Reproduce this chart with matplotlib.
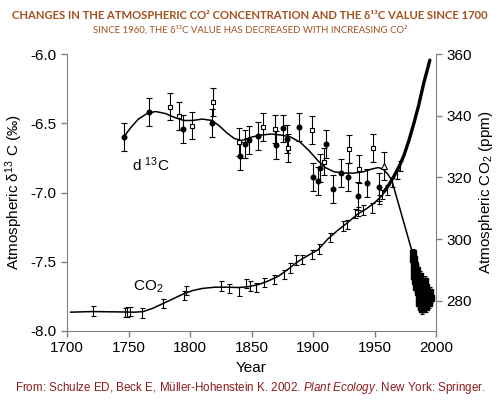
import matplotlib
matplotlib.use("Agg")
import matplotlib.pyplot as plt

plt.rcParams['font.family'] = ['Liberation Sans', 'DejaVu Sans']
plt.rcParams['axes.unicode_minus'] = False
plt.rcParams['mathtext.fontset'] = 'custom'
plt.rcParams['mathtext.rm'] = 'Liberation Sans'
plt.rcParams['mathtext.it'] = 'Liberation Sans:italic'

# d13C ice core points (filled circles, open squares, one triangle)
d13_fill_years = [1746.6, 1767, 1794.6, 1818, 1840.4, 1844.7, 1848.2, 1855.3, 1870.2, 1875.3, 1878.9,
                  1888.4, 1899.7, 1903.8, 1905.7, 1910.3, 1916.5, 1922.5, 1928.7, 1936.3, 1944.1, 1953.9]
d13_fill_vals = [-6.597, -6.421, -6.54, -6.496, -6.734, -6.65, -6.621, -6.592, -6.659, -6.537, -6.616,
                 -6.527, -6.886, -6.915, -6.825, -6.65, -6.977, -6.857, -6.89, -7.025, -6.929, -6.962]
d13_sq_years = [1783.7, 1790.8, 1801.6, 1819, 1839.6, 1859.3, 1869, 1879.9, 1899.4, 1909.2, 1929.3, 1937.4, 1948.5]
d13_sq_vals = [-6.38, -6.448, -6.517, -6.349, -6.633, -6.527, -6.539, -6.681, -6.549, -6.777, -6.688, -6.832, -6.677]
d13_tri_years = [1957.5]
d13_tri_vals = [-6.809]
d13_err = 0.1

# recent d13C measurements (dense cluster)
d13_recent_years = [1981.5, 1981.5, 1982.5, 1982, 1983, 1982, 1983.5, 1984.5, 1982.5, 1984, 1985.5, 1987,
                    1983, 1985, 1987, 1989, 1991, 1984, 1986, 1988, 1990, 1992,
                    1985, 1987, 1989, 1991, 1993, 1995, 1986, 1988, 1990, 1992, 1994, 1996,
                    1986.5, 1988.5, 1990.5, 1992.5, 1994.5, 1988, 1990, 1992, 1989]
d13_recent_vals = [-7.44, -7.48, -7.48, -7.52, -7.52, -7.56, -7.56, -7.56, -7.60, -7.60, -7.60, -7.60,
                   -7.64, -7.64, -7.64, -7.64, -7.64, -7.68, -7.68, -7.68, -7.68, -7.68,
                   -7.72, -7.72, -7.72, -7.72, -7.72, -7.72, -7.76, -7.76, -7.76, -7.76, -7.76, -7.76,
                   -7.80, -7.80, -7.80, -7.80, -7.80, -7.83, -7.83, -7.83, -7.84]

# d13C smooth curve
d13_curve_years = [1746, 1752, 1758, 1765, 1772, 1780, 1788, 1795, 1802, 1810, 1818, 1824, 1830, 1836, 1842,
                   1850, 1858, 1866, 1874, 1882, 1890, 1897, 1904, 1910, 1917, 1925, 1933, 1941, 1948,
                   1953, 1957, 1961, 1964, 1981, 1988]
d13_curve_vals = [-6.60, -6.53, -6.47, -6.43, -6.415, -6.43, -6.46, -6.48, -6.48, -6.47, -6.48, -6.52, -6.57,
                  -6.61, -6.625, -6.60, -6.585, -6.578, -6.585, -6.60, -6.64, -6.70, -6.77, -6.82, -6.85,
                  -6.86, -6.86, -6.85, -6.83, -6.82, -6.83, -6.87, -6.91, -7.44, -7.70]

# CO2 ice core points
co2_years = [1721, 1747, 1749, 1751, 1761, 1778, 1795, 1797, 1825, 1832, 1840, 1845.5, 1849, 1853.5, 1860.5,
             1868.5, 1876.5, 1881.3, 1886, 1890.8, 1899, 1905, 1913.8, 1924.6, 1927.4, 1934, 1936.8, 1941,
             1947.7, 1954, 1955.9, 1960, 1964, 1968, 1970.7]
co2_vals = [276.7, 276.2, 276.4, 276.6, 276.0, 279.0, 281.8, 283.3, 284.8, 284.0, 283.0, 285.6, 284.8, 284.3,
            286.0, 286.9, 288.5, 290.6, 293.2, 293.3, 295.0, 296.8, 300.4, 304.2, 304.7, 308.3, 309.0, 309.4,
            310.1, 312.8, 314.5, 315.9, 318.3, 321.0, 323.7]
co2_err = 1.5

# CO2 smooth curve
co2_curve_years = [1703, 1720, 1740, 1755, 1762, 1770, 1778, 1786, 1794, 1802, 1810, 1820, 1830, 1840, 1848,
                   1856, 1864, 1872, 1880, 1888, 1896, 1904, 1912, 1920, 1928, 1936, 1944, 1950, 1956, 1960]
co2_curve_vals = [276.3, 276.5, 276.4, 276.3, 276.5, 277.6, 279.1, 280.6, 282.1, 283.3, 284.0, 284.4, 284.4,
                  284.3, 284.6, 285.3, 286.5, 288.0, 290.3, 292.8, 294.7, 296.5, 300.0, 302.8, 305.3, 308.0,
                  310.0, 311.8, 314.0, 316.2]

# Mauna Loa record
ml_years = [1958, 1962, 1966, 1970, 1974, 1978, 1982, 1986, 1990, 1994, 1995]
ml_vals = [315.5, 317.8, 320.5, 323.5, 327.2, 332.0, 337.5, 343.5, 350.5, 356.5, 358.0]

fig = plt.figure(figsize=(5, 4), dpi=100)
ax = fig.add_axes([0.134, 0.1725, 0.738, 0.6925])
ax2 = ax.twinx()

# d13C
ax.plot(d13_curve_years, d13_curve_vals, color='black', lw=1.1, zorder=2)
ax.errorbar(d13_fill_years, d13_fill_vals, yerr=d13_err, fmt='o', color='black', ms=3.3,
            elinewidth=0.8, capsize=2, capthick=0.8, zorder=3)
ax.errorbar(d13_sq_years, d13_sq_vals, yerr=d13_err, fmt='s', color='black', mfc='white', mec='black',
            ms=3.3, mew=0.8, elinewidth=0.8, capsize=2, capthick=0.8, zorder=3)
ax.errorbar(d13_tri_years, d13_tri_vals, yerr=d13_err, fmt='^', color='black', mfc='white', mec='black',
            ms=4, mew=0.8, elinewidth=0.8, capsize=2, capthick=0.8, zorder=3)
ax.errorbar(d13_recent_years, d13_recent_vals, yerr=0.035, fmt='s', color='black', ms=4,
            elinewidth=1, capsize=1.5, capthick=0.8, zorder=3)

# CO2
ax2.plot(co2_curve_years, co2_curve_vals, color='black', lw=1.1, zorder=2)
ax2.errorbar(co2_years, co2_vals, yerr=co2_err, fmt='none', ecolor='black',
             elinewidth=0.8, capsize=1.8, capthick=0.8, zorder=3)
ax2.plot(ml_years, ml_vals, color='black', lw=2.4, solid_capstyle='round', zorder=3)

ax.text(1753, -6.80, 'd $^{13}$C', fontsize=11, va='center')
ax.text(1754, -7.68, 'CO$_2$', fontsize=11, va='center')

ax.set_xlim(1700, 2000)
ax.set_ylim(-8.0, -6.0)
ax2.set_ylim(270.2, 360)
ax.set_xticks([1700, 1750, 1800, 1850, 1900, 1950, 2000])
ax.set_yticks([-8.0, -7.5, -7.0, -6.5, -6.0])
ax.set_yticklabels(['-8.0', '-7.5', '-7.0', '-6.5', '-6.0'])
ax2.set_yticks([280, 300, 320, 340, 360])

for a in (ax, ax2):
    a.spines['top'].set_visible(False)
    for s in a.spines.values():
        s.set_color('#808080')
    a.tick_params(colors='#808080', labelcolor='black', labelsize=11, length=4, width=1)
ax.spines['right'].set_visible(False)
ax2.spines['left'].set_visible(False)
ax2.spines['bottom'].set_visible(False)
ax2.spines['right'].set_bounds(270.2, 360)

ax.set_xlabel('Year', fontsize=11, labelpad=4)
ax.set_ylabel('Atmospheric δ$^{13}$ C (‰)', fontsize=11)
ax2.set_ylabel('Atmospheric CO$_2$ (ppm)', fontsize=11)

title_font = ['Lato', 'DejaVu Sans']
fig.text(0.5, 0.962, 'CHANGES IN THE ATMOSPHERIC CO² CONCENTRATION AND THE δ¹³C VALUE SINCE 1700',
         ha='center', va='center', fontsize=8.1, fontweight='bold', color='#A3501F', family=title_font)
fig.text(0.5, 0.924, 'SINCE 1960, THE δ¹³C VALUE HAS DECREASED WITH INCREASING CO²',
         ha='center', va='center', fontsize=6.9, color='#A3501F', family=title_font)
fig.text(0.5, 0.03, 'From: Schulze ED, Beck E, Müller-Hohenstein K. 2002. $\\it{Plant\\ Ecology}$. New York: Springer.',
         ha='center', va='center', fontsize=8.4, color='#8B1C1C')

fig.savefig('out.png', dpi=100, facecolor='white')
